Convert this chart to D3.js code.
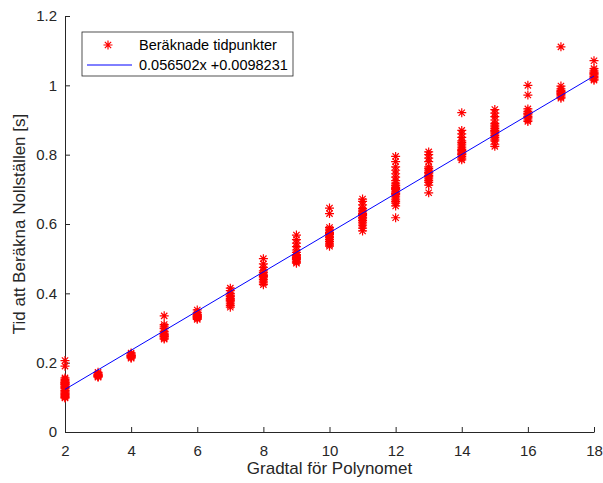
<!DOCTYPE html>
<html>
<head>
<meta charset="utf-8">
<script src="https://cdn.jsdelivr.net/npm/d3@7"></script>
<style>
  body { margin: 0; background: #fff; }
  svg { font-family: "Liberation Sans", Arial, sans-serif; }
</style>
</head>
<body>
<svg class="chart" width="603" height="483"></svg>
<script>
// measured times per polynomial degree
var degrees = [2, 3, 4, 5, 6, 7, 8, 9, 10, 11, 12, 13, 14, 15, 16, 17, 18];
var times = [
  [0.206, 0.19, 0.156, 0.152, 0.148, 0.145, 0.142, 0.14, 0.138, 0.135, 0.132, 0.13, 0.128, 0.125, 0.12, 0.115, 0.112, 0.11, 0.108, 0.105, 0.102, 0.1, 0.098, 0.143, 0.137, 0.118],
  [0.172, 0.168, 0.165, 0.163, 0.161, 0.16, 0.158, 0.166, 0.162],
  [0.228, 0.225, 0.222, 0.22, 0.218, 0.215, 0.213, 0.221, 0.217],
  [0.335, 0.31, 0.305, 0.298, 0.29, 0.285, 0.28, 0.277, 0.274, 0.271, 0.268, 0.282, 0.276, 0.3],
  [0.352, 0.345, 0.34, 0.337, 0.335, 0.333, 0.33, 0.328, 0.325, 0.338, 0.332],
  [0.415, 0.408, 0.4, 0.395, 0.39, 0.385, 0.38, 0.375, 0.37, 0.365, 0.36, 0.392, 0.383, 0.378],
  [0.50, 0.485, 0.475, 0.465, 0.46, 0.455, 0.45, 0.445, 0.44, 0.435, 0.43, 0.425, 0.452, 0.448],
  [0.568, 0.555, 0.545, 0.535, 0.525, 0.518, 0.512, 0.508, 0.505, 0.5, 0.497, 0.493, 0.49, 0.487, 0.503, 0.51],
  [0.646, 0.63, 0.59, 0.585, 0.58, 0.575, 0.57, 0.565, 0.56, 0.555, 0.55, 0.545, 0.54, 0.536, 0.572, 0.562],
  [0.672, 0.665, 0.655, 0.645, 0.64, 0.635, 0.63, 0.625, 0.62, 0.615, 0.61, 0.605, 0.6, 0.595, 0.588, 0.58, 0.628, 0.618],
  [0.795, 0.78, 0.765, 0.755, 0.745, 0.735, 0.725, 0.718, 0.71, 0.705, 0.7, 0.695, 0.69, 0.685, 0.68, 0.675, 0.67, 0.665, 0.66, 0.652, 0.618, 0.712, 0.702, 0.688],
  [0.808, 0.8, 0.79, 0.78, 0.765, 0.76, 0.755, 0.75, 0.745, 0.74, 0.735, 0.73, 0.725, 0.72, 0.712, 0.69, 0.748, 0.738],
  [0.921, 0.87, 0.86, 0.85, 0.84, 0.835, 0.83, 0.825, 0.82, 0.815, 0.81, 0.805, 0.8, 0.795, 0.79, 0.785, 0.812, 0.802],
  [0.93, 0.92, 0.91, 0.9, 0.89, 0.885, 0.88, 0.875, 0.87, 0.865, 0.86, 0.855, 0.85, 0.845, 0.84, 0.83, 0.824, 0.868],
  [1.0, 0.972, 0.932, 0.925, 0.92, 0.915, 0.91, 0.905, 0.9, 0.896, 0.918, 0.908],
  [1.111, 0.998, 0.99, 0.985, 0.98, 0.977, 0.974, 0.97, 0.966, 0.963, 0.982],
  [1.071, 1.048, 1.042, 1.038, 1.035, 1.03, 1.026, 1.022, 1.018, 1.015, 1.033]
];
// linear fit
var slope = 0.056502;
var intercept = 0.0098231;
var xTicks = [2, 4, 6, 8, 10, 12, 14, 16, 18];
var yTicks = [0, 0.2, 0.4, 0.6, 0.8, 1, 1.2];
var legendLabels = ["Beräknade tidpunkter", "0.056502x +0.0098231"];

var svg = d3.select(".chart");
var margin = {top: 16, right: 9, bottom: 51, left: 65};
var w = +svg.attr("width") - margin.left - margin.right;
var h = +svg.attr("height") - margin.top - margin.bottom;
var g = svg.append("g").attr("transform", "translate(" + margin.left + "," + margin.top + ")");

var xScale = d3.scaleLinear().domain([2, 18]).range([0, w]);
var yScale = d3.scaleLinear().domain([0, 1.2]).range([h, 0]);

var axisColor = "#262626";

var xAxis = g.append("g")
    .attr("transform", "translate(0," + h + ")")
    .call(d3.axisBottom(xScale).tickValues(xTicks).tickSizeInner(-5).tickSizeOuter(0).tickPadding(13));
var yAxis = g.append("g")
    .call(d3.axisLeft(yScale).tickValues(yTicks).tickFormat(d3.format("")).tickSizeInner(-5).tickSizeOuter(0).tickPadding(8));

[xAxis, yAxis].forEach(function (ax) {
    ax.select(".domain").attr("stroke", axisColor);
    ax.selectAll(".tick line").attr("stroke", axisColor);
    ax.selectAll(".tick text").attr("fill", axisColor).style("font-size", "15px");
});

// points
var points = [];
degrees.forEach(function (d, i) {
    times[i].forEach(function (t) { points.push({x: d, y: t}); });
});

var r = 4.5;
var starPath = "M" + (-r) + ",0H" + r + "M0," + (-r) + "V" + r +
    "M" + (-r * 0.7) + "," + (-r * 0.7) + "L" + (r * 0.7) + "," + (r * 0.7) +
    "M" + (-r * 0.7) + "," + (r * 0.7) + "L" + (r * 0.7) + "," + (-r * 0.7);

g.append("g").selectAll("path")
    .data(points)
    .enter()
    .append("path")
    .attr("transform", function (d) { return "translate(" + xScale(d.x) + "," + yScale(d.y) + ")"; })
    .attr("d", starPath)
    .attr("stroke", "#ff0000")
    .attr("stroke-width", 1.2)
    .attr("fill", "none");

// fit line
g.append("line")
    .attr("x1", xScale(2)).attr("y1", yScale(slope * 2 + intercept))
    .attr("x2", xScale(18)).attr("y2", yScale(slope * 18 + intercept))
    .attr("stroke", "#0000ff")
    .attr("stroke-width", 1);

// axis labels
svg.append("text")
    .attr("x", margin.left + w / 2).attr("y", 474)
    .attr("text-anchor", "middle")
    .attr("fill", axisColor)
    .style("font-size", "17px")
    .text("Gradtal för Polynomet");

svg.append("text")
    .attr("transform", "translate(25," + (margin.top + h / 2) + ") rotate(-90)")
    .attr("text-anchor", "middle")
    .attr("fill", axisColor)
    .style("font-size", "17px")
    .text("Tid att Beräkna Nollställen [s]");

// legend
var legend = svg.append("g").attr("transform", "translate(82,32)");
legend.append("rect")
    .attr("width", 211).attr("height", 44)
    .attr("fill", "#fff").attr("stroke", axisColor).attr("stroke-width", 0.8);
legend.append("path")
    .attr("transform", "translate(26,13)")
    .attr("d", starPath)
    .attr("stroke", "#ff0000").attr("stroke-width", 1.2).attr("fill", "none");
legend.append("line")
    .attr("x1", 5).attr("x2", 50).attr("y1", 33).attr("y2", 33)
    .attr("stroke", "#0000ff");
legend.selectAll("text.lab")
    .data(legendLabels)
    .enter()
    .append("text")
    .attr("class", "lab")
    .attr("x", 57)
    .attr("y", function (d, i) { return 18 + i * 20; })
    .attr("fill", "#000")
    .style("font-size", "14.5px")
    .text(function (d) { return d; });
</script>
</body>
</html>
